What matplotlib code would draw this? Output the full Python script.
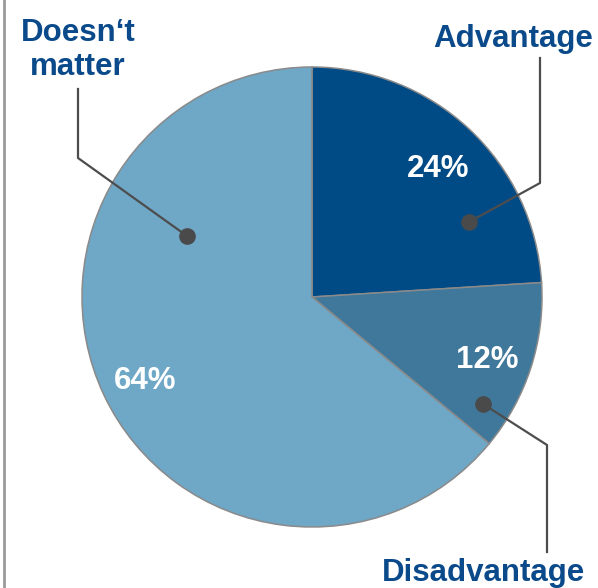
import matplotlib.pyplot as plt
from matplotlib.lines import Line2D

plt.rcParams['font.family'] = ['Liberation Sans', 'DejaVu Sans']

# answer shares
categories = ['Advantage', 'Disadvantage', 'Doesn\u2018t\nmatter']
shares = [24, 12, 64]
colors = ['#004a86', '#3f789b', '#6fa7c7']

W, H = 598, 588
fig = plt.figure(figsize=(W / 100, H / 100), dpi=100)
ax = fig.add_axes([0, 0, 1, 1])

cx, cy, r = 312, H - 297, 230
wedges, texts, autotexts = ax.pie(
    shares, colors=colors, startangle=90, counterclock=False,
    radius=r, center=(cx, cy), frame=True,
    autopct=lambda p: '%d%%' % round(p), pctdistance=0.8,
    wedgeprops=dict(edgecolor='#8a8a8a', linewidth=1.1),
    textprops=dict(color='white', fontsize=22.5, fontweight='bold'))
ax.set_xlim(0, W)
ax.set_ylim(0, H)
ax.set_aspect('equal')
ax.axis('off')

# nudge the percentages a little lower
for t in autotexts:
    x, y = t.get_position()
    t.set_position((x, y - 6))

label_color = '#0b4a8a'
line_color = '#4d4d4d'

# leader lines: dot inside the wedge, elbow, end near label (pixel layout, y from top)
leaders = [
    [(469, 222), (540, 183), (540, 58)],
    [(483, 404), (547, 445), (547, 552)],
    [(187, 236), (78, 158), (78, 89)],
]
for pts in leaders:
    xs = [p[0] for p in pts]
    ys = [H - p[1] for p in pts]
    ax.add_line(Line2D(xs, ys, color=line_color, linewidth=1.6, zorder=5))
    ax.plot(xs[0], ys[0], 'o', color='#4a4a4a', markersize=11, zorder=6)

label_pos = [(513, 39), (483, 573), (78, 50)]
for name, (x, y) in zip(categories, label_pos):
    ax.text(x, H - y, name, color=label_color, fontsize=22.5, fontweight='bold',
            ha='center', va='center', linespacing=1.15)

# frame line on the left
ax.add_line(Line2D([4, 4], [0, H], color='#9a9a9a', linewidth=2))

fig.savefig('out.png', dpi=100)
